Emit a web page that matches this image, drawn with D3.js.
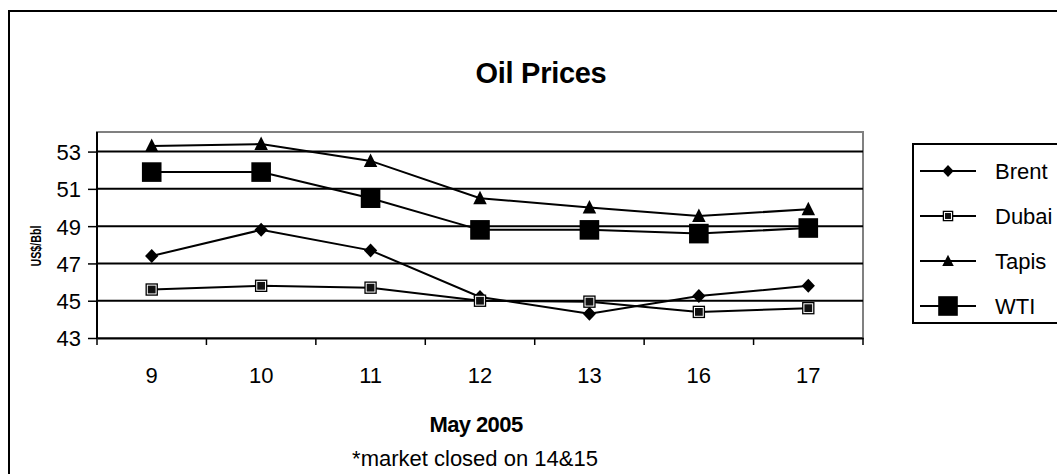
<!DOCTYPE html>
<html>
<head>
<meta charset="utf-8">
<script src="https://cdn.jsdelivr.net/npm/d3@7"></script>
<style>
  body { margin: 0; background: #fff; }
  svg { display: block; font-family: "Liberation Sans", Arial, sans-serif; }
</style>
</head>
<body>
<svg id="chart" width="1057" height="474"></svg>
<script>
// days of May 2005 (market closed on 14 & 15)
const days = ["9", "10", "11", "12", "13", "16", "17"];
const brent = [47.4, 48.8, 47.7, 45.2, 44.3, 45.25, 45.8];
const dubai = [45.6, 45.8, 45.7, 45.0, 44.95, 44.4, 44.6];
const tapis = [53.3, 53.4, 52.5, 50.5, 50.0, 49.55, 49.9];
const wti = [51.9, 51.9, 50.5, 48.8, 48.8, 48.6, 48.9];
const seriesNames = ["Brent", "Dubai", "Tapis", "WTI"];
const yTicks = [43, 45, 47, 49, 51, 53];

const series = [
    { name: "Brent", values: brent, marker: "diamond" },
    { name: "Dubai", values: dubai, marker: "dubai" },
    { name: "Tapis", values: tapis, marker: "triangle" },
    { name: "WTI", values: wti, marker: "square" }
];

const svg = d3.select("#chart");
const plotL = 97, plotR = 863, plotT = 132, plotB = 338;

const x = d3.scaleBand().domain(days).range([plotL, plotR]);
const y = d3.scaleLinear().domain([43, 54.05]).range([plotB, plotT]);

// outer frame
svg.append("rect")
    .attr("x", 9).attr("y", 11)
    .attr("width", 1100).attr("height", 500)
    .attr("fill", "none").attr("stroke", "#000").attr("stroke-width", 2);

svg.append("text")
    .attr("x", 541).attr("y", 83)
    .attr("text-anchor", "middle")
    .attr("font-size", 29).attr("font-weight", "bold")
    .attr("letter-spacing", -0.3)
    .text("Oil Prices");

// plot frame (grey top/right)
svg.append("rect")
    .attr("x", plotL).attr("y", plotT)
    .attr("width", plotR - plotL).attr("height", plotB - plotT)
    .attr("fill", "#fff").attr("stroke", "#808080").attr("stroke-width", 2);

// gridlines
svg.append("g")
    .selectAll("line")
    .data(yTicks.slice(1))
    .join("line")
    .attr("x1", plotL).attr("x2", plotR)
    .attr("y1", d => y(d)).attr("y2", d => y(d))
    .attr("stroke", "#000").attr("stroke-width", 2);

// axes
const yAxis = svg.append("g")
    .attr("transform", `translate(${plotL},0)`)
    .call(d3.axisLeft(y).tickValues(yTicks).tickSize(9).tickPadding(7).tickSizeOuter(0));
yAxis.select(".domain").attr("stroke", "#000").attr("stroke-width", 2)
    .attr("d", `M0,${plotB}V${plotT}`);
yAxis.selectAll(".tick line").attr("stroke-width", 1.5);
yAxis.selectAll("text").attr("font-size", 22).attr("font-family", "Liberation Sans, Arial")
    .attr("dy", "0.36em").attr("fill", "#000");

const xAxis = svg.append("g")
    .attr("transform", `translate(0,${plotB})`)
    .call(d3.axisBottom(x).tickSize(0).tickPadding(29));
xAxis.select(".domain").attr("stroke", "#000").attr("stroke-width", 2);
xAxis.selectAll("text").attr("font-size", 22).attr("font-family", "Liberation Sans, Arial").attr("fill", "#000");
// tick marks between categories
xAxis.append("g")
    .selectAll("line")
    .data(days.map(d => x(d)).concat([x(days[days.length - 1]) + x.bandwidth()]))
    .join("line")
    .attr("x1", d => d).attr("x2", d => d)
    .attr("y1", 0).attr("y2", 7)
    .attr("stroke", "#000").attr("stroke-width", 1.5);

// axis titles
svg.append("text")
    .attr("transform", "translate(41,246) rotate(-90)")
    .attr("text-anchor", "middle")
    .attr("font-size", 15).attr("font-weight", "bold")
    .attr("textLength", 41).attr("lengthAdjust", "spacingAndGlyphs")
    .text("US$/Bbl");

svg.append("text")
    .attr("x", 476).attr("y", 432)
    .attr("text-anchor", "middle")
    .attr("font-size", 22).attr("font-weight", "bold")
    .attr("letter-spacing", -0.6)
    .text("May 2005");

svg.append("text")
    .attr("x", 475).attr("y", 466)
    .attr("text-anchor", "middle")
    .attr("font-size", 22)
    .text("*market closed on 14&15");

function drawMarker(g, type, scale = 1) {
    if (type === "diamond") {
        const r = 7 * scale;
        g.append("path").attr("d", `M0,${-r}L${r * 0.95},0L0,${r}L${-r * 0.95},0Z`).attr("fill", "#000");
    } else if (type === "dubai") {
        const s = 6.2 * scale;
        g.append("rect").attr("x", -s).attr("y", -s).attr("width", 2 * s).attr("height", 2 * s)
            .attr("fill", "#000");
        g.append("rect").attr("x", -s + 1.8).attr("y", -s + 1.8)
            .attr("width", 2 * s - 3.6).attr("height", 2 * s - 3.6)
            .attr("fill", "#111").attr("stroke", "#fff").attr("stroke-width", 1);
    } else if (type === "triangle") {
        const h = 7.5 * scale;
        g.append("path").attr("d", `M0,${-h}L${h * 0.9},${h * 0.8}L${-h * 0.9},${h * 0.8}Z`).attr("fill", "#000");
    } else {
        const s = 9.8 * scale;
        g.append("rect").attr("x", -s).attr("y", -s).attr("width", 2 * s).attr("height", 2 * s)
            .attr("fill", "#000");
    }
}

const line = d3.line()
    .x((d, i) => x(days[i]) + x.bandwidth() / 2)
    .y(d => y(d));

series.forEach(s => {
    svg.append("path")
        .datum(s.values)
        .attr("fill", "none")
        .attr("stroke", "#000")
        .attr("stroke-width", 2)
        .attr("d", line);
    s.values.forEach((v, i) => {
        const g = svg.append("g")
            .attr("transform", `translate(${x(days[i]) + x.bandwidth() / 2},${y(v)})`);
        drawMarker(g, s.marker);
    });
});

// legend
const legend = svg.append("g");
legend.append("rect")
    .attr("x", 913).attr("y", 144)
    .attr("width", 200).attr("height", 179)
    .attr("fill", "#fff").attr("stroke", "#000").attr("stroke-width", 2);

const legendY = d3.scalePoint().domain(seriesNames).range([171, 306]);
series.forEach(s => {
    const ly = legendY(s.name);
    legend.append("line")
        .attr("x1", 920).attr("x2", 976)
        .attr("y1", ly).attr("y2", ly)
        .attr("stroke", "#000").attr("stroke-width", 2);
    const g = legend.append("g").attr("transform", `translate(948,${ly})`);
    drawMarker(g, s.marker, s.marker === "square" ? 1 : 0.85);
    legend.append("text")
        .attr("x", 995).attr("y", ly)
        .attr("dy", "0.36em")
        .attr("font-size", 22)
        .text(s.name);
});
</script>
</body>
</html>
